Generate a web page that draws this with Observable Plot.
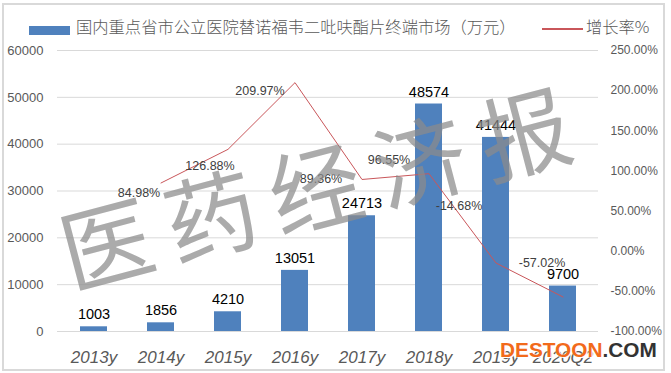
<!DOCTYPE html>
<html>
<head>
<meta charset="utf-8">
<script src="https://cdn.jsdelivr.net/npm/d3@7"></script>
<script src="https://cdn.jsdelivr.net/npm/@observablehq/plot@0.6"></script>
<style>
  html, body { margin: 0; padding: 0; background: #fff; }
  #wrap { position: relative; width: 671px; height: 373px; overflow: hidden; font-family: "Liberation Sans", Arial, sans-serif; }
  #wrap svg { position: absolute; left: 0; top: 0; }
  .frame { position: absolute; left: 2px; top: 3px; width: 659px; height: 364px; border: 2px solid #d9d9d9; pointer-events: none; }
  .legend-text { position: absolute; font-family: "Noto Sans CJK SC", sans-serif; font-size: 16.3px; color: #595959; line-height: 20px; white-space: nowrap; font-weight: 300; }
  .watermark { position: absolute; left: 322px; top: 182px; transform: translate(-50%, -50%) rotate(-14.7deg); font-family: "Noto Sans CJK SC", sans-serif; font-size: 92px; letter-spacing: 16px; color: #8c8c8c; opacity: 0.72; white-space: nowrap; line-height: 1; pointer-events: none; }
  .logo { position: absolute; left: 500px; top: 338px; font-family: "Liberation Sans", Arial, sans-serif; font-weight: bold; font-size: 20.8px; line-height: 24px; white-space: nowrap; }
  .logo .d { color: #f26a1b; text-shadow: 0 0 2px #fff, 1px 1px 0 #fff; }
  .logo .c { color: #333; }
</style>
</head>
<body>
<div id="wrap"></div>
<script>
// ---- data ----
const categories = ["2013y", "2014y", "2015y", "2016y", "2017y", "2018y", "2019y", "2020Q2"];
const sales = [1003, 1856, 4210, 13051, 24713, 48574, 41444, 9700];
const growthCategories = ["2014y", "2015y", "2016y", "2017y", "2018y", "2019y", "2020Q2"];
const growth = [84.98, 126.88, 209.97, 89.36, 96.55, -14.68, -57.02];
const leftTicks = [0, 10000, 20000, 30000, 40000, 50000, 60000];
const rightTicks = [-100, -50, 0, 50, 100, 150, 200, 250];
const seriesNames = ["国内重点省市公立医院替诺福韦二吡呋酯片终端市场（万元）", "增长率%"];

// label placement (style, not data)
const growthLabelOffsets = [[-22, 10], [-18, 17], [-35, 8], [-41, 0], [-40, -14], [-37, -57], [-21, -34]];

// secondary axis mapping: rate domain [-100, 250] -> left domain [0, 60000]
const rMin = -100, rMax = 250, lMax = 60000;
const toLeft = r => (r - rMin) / (rMax - rMin) * lMax;

const barColor = "#4f81bd";
const lineColor = "#c9565a";

const barIdx = d3.range(categories.length);
const lineIdx = d3.range(growth.length);

const marks = [
  Plot.gridY({ticks: leftTicks, stroke: "#d9d9d9", strokeOpacity: 1}),
  Plot.barY(barIdx, {x: i => categories[i], y: i => sales[i], fill: barColor}),
  Plot.text(barIdx, {x: i => categories[i], y: i => sales[i], text: i => String(sales[i]), dy: -12, fontSize: 14.5, fill: "#000"}),
  Plot.line(lineIdx, {x: i => growthCategories[i], y: i => toLeft(growth[i]), stroke: lineColor, strokeWidth: 1}),
  ...lineIdx.map(i => Plot.text([i], {
    x: j => growthCategories[j], y: j => toLeft(growth[j]),
    text: j => growth[j].toFixed(2) + "%",
    dx: growthLabelOffsets[i][0], dy: growthLabelOffsets[i][1],
    fontSize: 12.5, fill: "#404040"
  })),
  Plot.axisY({ticks: leftTicks, tickSize: 0, tickPadding: 14, fontSize: 13, fill: "#595959", label: null, tickFormat: d => String(d)}),
  Plot.axisY({anchor: "right", ticks: rightTicks.map(toLeft), tickSize: 0, tickPadding: 12, fontSize: 12, fill: "#595959", label: null,
    tickFormat: v => { const r = rightTicks.find(t => Math.abs(toLeft(t) - v) < 1e-6); return r.toFixed(2) + "%"; }}),
  Plot.axisX({tickSize: 0, tickPadding: 19, fontSize: 17, fontStyle: "italic", fill: "#595959", label: null})
];

const chart = Plot.plot({
  width: 671,
  height: 373,
  marginTop: 50,
  marginBottom: 42,
  marginLeft: 57,
  marginRight: 73,
  style: {fontFamily: "'Liberation Sans', Arial, sans-serif", background: "transparent"},
  x: {type: "band", domain: categories, paddingInner: 0.6, paddingOuter: 0.3},
  y: {domain: [0, lMax]},
  marks
});

const wrap = document.getElementById("wrap");
wrap.appendChild(chart);

// legend
const sw = document.createElement("div");
sw.style.cssText = `position:absolute;left:29px;top:26px;width:41px;height:9px;background:${barColor};`;
wrap.appendChild(sw);
const t1 = document.createElement("div");
t1.className = "legend-text";
t1.style.left = "76px"; t1.style.top = "16px";
t1.textContent = seriesNames[0];
wrap.appendChild(t1);
const ln = document.createElement("div");
ln.style.cssText = `position:absolute;left:542px;top:28px;width:41px;height:1.5px;background:${lineColor};`;
wrap.appendChild(ln);
const t2 = document.createElement("div");
t2.className = "legend-text";
t2.style.left = "586px"; t2.style.top = "16px";
t2.textContent = seriesNames[1];
wrap.appendChild(t2);

// watermark
const wm = document.createElement("div");
wm.className = "watermark";
wm.textContent = "医药经济报";
wrap.appendChild(wm);

// logo
const logo = document.createElement("div");
logo.className = "logo";
logo.innerHTML = '<span class="d">DESTOON</span><span class="c">.COM</span>';
wrap.appendChild(logo);

// frame
const fr = document.createElement("div");
fr.className = "frame";
wrap.appendChild(fr);
</script>
</body>
</html>
